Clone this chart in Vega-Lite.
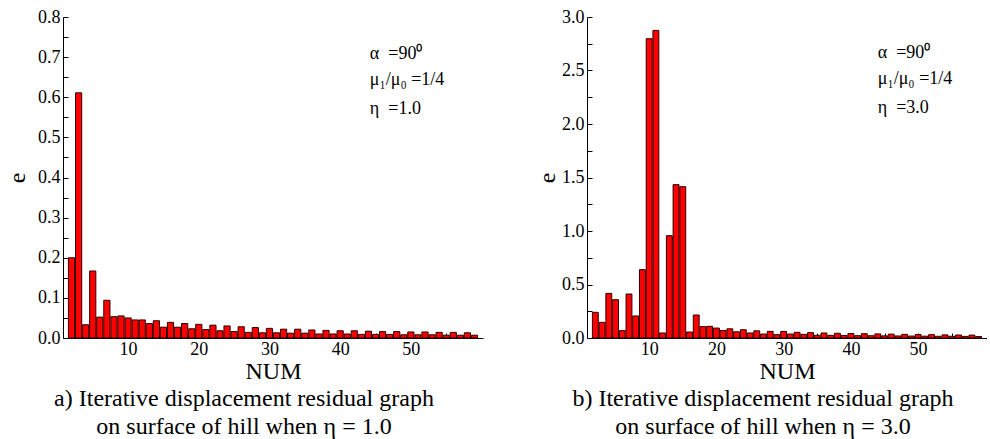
{
  "$schema": "https://vega.github.io/schema/vega-lite/v6.json",
  "background": "white",
  "padding": {"left": 5, "top": 8, "right": 0, "bottom": 0},
  "config": {
    "font": "Liberation Serif",
    "view": {"stroke": null},
    "axis": {"domainColor": "black", "tickColor": "black", "labelColor": "black", "titleColor": "black", "labelFont": "Liberation Serif", "titleFont": "Liberation Serif", "labelFontSize": 18, "titleFontSize": 24, "titleFontWeight": "normal", "grid": false, "tickSize": -5, "zindex": 1, "domainWidth": 1, "tickWidth": 1, "labelFlush": false, "labelOverlap": false},
    "title": {"font": "Liberation Serif", "fontSize": 24, "fontWeight": "normal", "color": "black", "orient": "bottom", "anchor": "middle", "lineHeight": 28}
  },
  "spacing": 52,
  "hconcat": [
    {
      "width": 420, "height": 321,
      "title": {"text": ["a) Iterative displacement residual graph", "on surface of hill when η = 1.0"], "dx": -29, "offset": 4},
      "encoding": {
        "x": {"field": "num", "type": "quantitative", "scale": {"domain": [1.5, 59.5], "nice": false, "zero": false},
              "axis": {"title": "NUM", "values": [5, 10, 15, 20, 25, 30, 35, 40, 45, 50, 55], "labelExpr": "datum.value % 10 === 0 ? format(datum.value, 'd') : ''", "labelPadding": 7, "titlePadding": 1}},
        "y": {"field": "e", "type": "quantitative", "scale": {"domain": [0, 0.8], "nice": false},
              "axis": {"title": "e", "values": [0, 0.05, 0.1, 0.15, 0.2, 0.25, 0.3, 0.35, 0.4, 0.45, 0.5, 0.55, 0.6, 0.65, 0.7, 0.75, 0.8], "labelExpr": "round(datum.value*100) % 10 === 0 ? format(datum.value, '.1f') : ''", "labelPadding": 8, "titlePadding": 8}}
      },
      "layer": [
        {
          "data": {"values": [
            {"num": 2, "e": 0.200}, {"num": 3, "e": 0.611}, {"num": 4, "e": 0.033}, {"num": 5, "e": 0.167},
            {"num": 6, "e": 0.052}, {"num": 7, "e": 0.094}, {"num": 8, "e": 0.053}, {"num": 9, "e": 0.055},
            {"num": 10, "e": 0.050}, {"num": 11, "e": 0.045}, {"num": 12, "e": 0.045}, {"num": 13, "e": 0.036},
            {"num": 14, "e": 0.043}, {"num": 15, "e": 0.027}, {"num": 16, "e": 0.039}, {"num": 17, "e": 0.027},
            {"num": 18, "e": 0.036}, {"num": 19, "e": 0.023}, {"num": 20, "e": 0.034}, {"num": 21, "e": 0.021},
            {"num": 22, "e": 0.032}, {"num": 23, "e": 0.018}, {"num": 24, "e": 0.030}, {"num": 25, "e": 0.016},
            {"num": 26, "e": 0.028}, {"num": 27, "e": 0.014}, {"num": 28, "e": 0.026}, {"num": 29, "e": 0.013},
            {"num": 30, "e": 0.024}, {"num": 31, "e": 0.013}, {"num": 32, "e": 0.022}, {"num": 33, "e": 0.012},
            {"num": 34, "e": 0.022}, {"num": 35, "e": 0.012}, {"num": 36, "e": 0.020}, {"num": 37, "e": 0.010},
            {"num": 38, "e": 0.019}, {"num": 39, "e": 0.010}, {"num": 40, "e": 0.018}, {"num": 41, "e": 0.010},
            {"num": 42, "e": 0.018}, {"num": 43, "e": 0.009}, {"num": 44, "e": 0.017}, {"num": 45, "e": 0.009},
            {"num": 46, "e": 0.016}, {"num": 47, "e": 0.009}, {"num": 48, "e": 0.016}, {"num": 49, "e": 0.008},
            {"num": 50, "e": 0.015}, {"num": 51, "e": 0.008}, {"num": 52, "e": 0.015}, {"num": 53, "e": 0.008},
            {"num": 54, "e": 0.014}, {"num": 55, "e": 0.007}, {"num": 56, "e": 0.014}, {"num": 57, "e": 0.007},
            {"num": 58, "e": 0.013}, {"num": 59, "e": 0.007}
          ]},
          "mark": {"type": "bar", "color": "#ff0000", "stroke": "#2a0000", "strokeWidth": 1, "width": 6.2}
        },
        {
          "data": {"values": [
            {"num": 44.2, "e": 0.708, "label": "α\u00a0 =90⁰"},
            {"num": 44.2, "e": 0.643, "label": "μ₁/μ₀ =1/4"},
            {"num": 44.2, "e": 0.571, "label": "η\u00a0 =1.0"}
          ]},
          "mark": {"type": "text", "align": "left", "baseline": "middle", "fontSize": 18, "font": "Liberation Serif", "color": "black"},
          "encoding": {"text": {"field": "label"}}
        }
      ]
    },
    {
      "width": 400, "height": 321,
      "title": {"text": ["b) Iterative displacement residual graph", "on surface of hill when η = 3.0"], "dx": -24, "offset": 4},
      "encoding": {
        "x": {"field": "n", "type": "quantitative", "scale": {"domain": [1.5, 59.5], "nice": false, "zero": false},
              "axis": {"title": "NUM", "values": [5, 10, 15, 20, 25, 30, 35, 40, 45, 50, 55], "labelExpr": "datum.value % 10 === 0 ? format(datum.value, 'd') : ''", "labelPadding": 7, "titlePadding": 1}},
        "y": {"field": "r", "type": "quantitative", "scale": {"domain": [0, 3], "nice": false},
              "axis": {"title": "e", "values": [0, 0.25, 0.5, 0.75, 1, 1.25, 1.5, 1.75, 2, 2.25, 2.5, 2.75, 3], "labelExpr": "round(datum.value*100) % 50 === 0 ? format(datum.value, '.1f') : ''", "labelPadding": 8, "titlePadding": 2}}
      },
      "layer": [
        {
          "data": {"values": [
            {"n": 2, "r": 0.24}, {"n": 3, "r": 0.146}, {"n": 4, "r": 0.417}, {"n": 5, "r": 0.358},
            {"n": 6, "r": 0.069}, {"n": 7, "r": 0.411}, {"n": 8, "r": 0.206}, {"n": 9, "r": 0.639},
            {"n": 10, "r": 2.797}, {"n": 11, "r": 2.875}, {"n": 12, "r": 0.047}, {"n": 13, "r": 0.956},
            {"n": 14, "r": 1.433}, {"n": 15, "r": 1.414}, {"n": 16, "r": 0.056}, {"n": 17, "r": 0.215},
            {"n": 18, "r": 0.106}, {"n": 19, "r": 0.109}, {"n": 20, "r": 0.093}, {"n": 21, "r": 0.07},
            {"n": 22, "r": 0.086}, {"n": 23, "r": 0.058}, {"n": 24, "r": 0.077}, {"n": 25, "r": 0.047},
            {"n": 26, "r": 0.067}, {"n": 27, "r": 0.037}, {"n": 28, "r": 0.062}, {"n": 29, "r": 0.031},
            {"n": 30, "r": 0.062}, {"n": 31, "r": 0.037}, {"n": 32, "r": 0.053}, {"n": 33, "r": 0.034},
            {"n": 34, "r": 0.050}, {"n": 35, "r": 0.025}, {"n": 36, "r": 0.047}, {"n": 37, "r": 0.025},
            {"n": 38, "r": 0.044}, {"n": 39, "r": 0.024}, {"n": 40, "r": 0.042}, {"n": 41, "r": 0.022},
            {"n": 42, "r": 0.040}, {"n": 43, "r": 0.021}, {"n": 44, "r": 0.038}, {"n": 45, "r": 0.020},
            {"n": 46, "r": 0.036}, {"n": 47, "r": 0.019}, {"n": 48, "r": 0.034}, {"n": 49, "r": 0.018},
            {"n": 50, "r": 0.032}, {"n": 51, "r": 0.017}, {"n": 52, "r": 0.031}, {"n": 53, "r": 0.016},
            {"n": 54, "r": 0.029}, {"n": 55, "r": 0.016}, {"n": 56, "r": 0.028}, {"n": 57, "r": 0.015},
            {"n": 58, "r": 0.027}, {"n": 59, "r": 0.014}
          ]},
          "mark": {"type": "bar", "color": "#ff0000", "stroke": "#2a0000", "strokeWidth": 1, "width": 5.9}
        },
        {
          "data": {"values": [
            {"n": 44.0, "r": 2.66, "label": "α\u00a0 =90⁰"},
            {"n": 44.0, "r": 2.42, "label": "μ₁/μ₀ =1/4"},
            {"n": 44.0, "r": 2.15, "label": "η\u00a0 =3.0"}
          ]},
          "mark": {"type": "text", "align": "left", "baseline": "middle", "fontSize": 18, "font": "Liberation Serif", "color": "black"},
          "encoding": {"text": {"field": "label"}}
        }
      ]
    }
  ]
}
